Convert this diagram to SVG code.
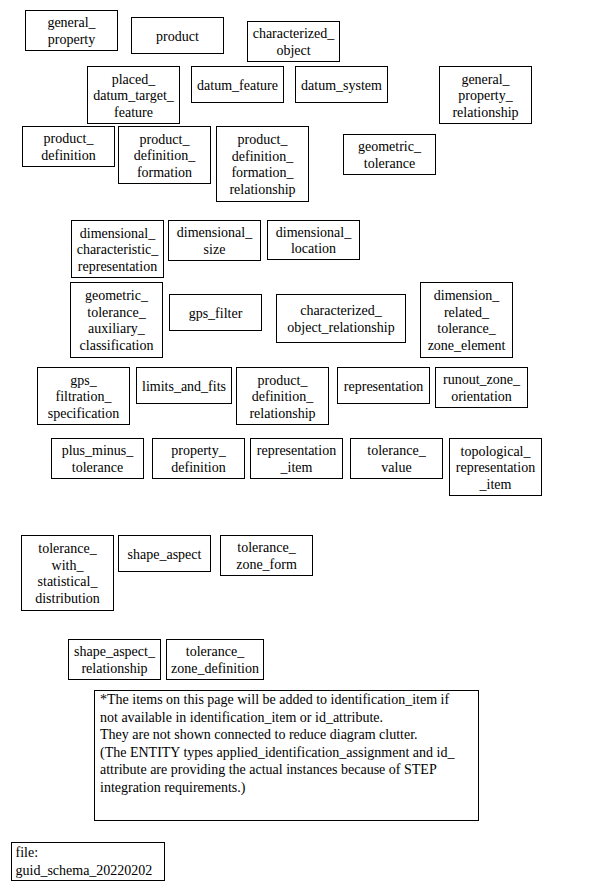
<svg xmlns="http://www.w3.org/2000/svg" width="600" height="888" viewBox="0 0 600 888">
<style>
rect{fill:#fff;stroke:#000;stroke-width:1}
text{font-family:'Liberation Serif',serif;font-size:14px;fill:#000}
.c{text-anchor:middle}
</style>
<rect x="0" y="0" width="600" height="888" style="stroke:none"/>
<g id="connectors"/>
<g id="nodes" font-family="Liberation Serif, serif" font-size="14">
<g id="general_property"><rect x="25.5" y="10.5" width="92" height="40"/><text class="c" x="71.5" y="27.25">general_</text><text class="c" x="71.5" y="43.75">property</text></g>
<g id="product"><rect x="131.5" y="17.5" width="92" height="36"/><text class="c" x="177.5" y="40.5">product</text></g>
<g id="characterized_object"><rect x="247.5" y="21.5" width="92" height="40"/><text class="c" x="293.5" y="38.25">characterized_</text><text class="c" x="293.5" y="54.75">object</text></g>
<g id="placed_datum_target_feature"><rect x="87.5" y="66.5" width="92" height="57"/><text class="c" x="133.5" y="83.5">placed_</text><text class="c" x="133.5" y="100">datum_target_</text><text class="c" x="133.5" y="116.5">feature</text></g>
<g id="datum_feature"><rect x="191.5" y="66.5" width="92" height="36"/><text class="c" x="237.5" y="89.5">datum_feature</text></g>
<g id="datum_system"><rect x="295.5" y="66.5" width="92" height="36"/><text class="c" x="341.5" y="89.5">datum_system</text></g>
<g id="general_property_relationship"><rect x="439.5" y="66.5" width="92" height="57"/><text class="c" x="485.5" y="83.5">general_</text><text class="c" x="485.5" y="100">property_</text><text class="c" x="485.5" y="116.5">relationship</text></g>
<g id="product_definition"><rect x="22.5" y="126.5" width="92" height="40"/><text class="c" x="68.5" y="143.25">product_</text><text class="c" x="68.5" y="159.75">definition</text></g>
<g id="product_definition_formation"><rect x="118.5" y="126.5" width="92" height="57"/><text class="c" x="164.5" y="143.5">product_</text><text class="c" x="164.5" y="160">definition_</text><text class="c" x="164.5" y="176.5">formation</text></g>
<g id="product_definition_formation_relationship"><rect x="216.5" y="126.5" width="92" height="75"/><text class="c" x="262.5" y="144.25">product_</text><text class="c" x="262.5" y="160.75">definition_</text><text class="c" x="262.5" y="177.25">formation_</text><text class="c" x="262.5" y="193.75">relationship</text></g>
<g id="geometric_tolerance"><rect x="343.5" y="134.5" width="92" height="40"/><text class="c" x="389.5" y="151.25">geometric_</text><text class="c" x="389.5" y="167.75">tolerance</text></g>
<g id="dimensional_characteristic_representation"><rect x="71.5" y="220.5" width="92" height="57"/><text class="c" x="117.5" y="237.5">dimensional_</text><text class="c" x="117.5" y="254">characteristic_</text><text class="c" x="117.5" y="270.5">representation</text></g>
<g id="dimensional_size"><rect x="168.5" y="220.5" width="92" height="40"/><text class="c" x="214.5" y="237.25">dimensional_</text><text class="c" x="214.5" y="253.75">size</text></g>
<g id="dimensional_location"><rect x="267.5" y="220.5" width="92" height="39"/><text class="c" x="313.5" y="236.75">dimensional_</text><text class="c" x="313.5" y="253.25">location</text></g>
<g id="geometric_tolerance_auxiliary_classification"><rect x="70.5" y="282.5" width="92" height="75"/><text class="c" x="116.5" y="300.25">geometric_</text><text class="c" x="116.5" y="316.75">tolerance_</text><text class="c" x="116.5" y="333.25">auxiliary_</text><text class="c" x="116.5" y="349.75">classification</text></g>
<g id="gps_filter"><rect x="169.5" y="294.5" width="92" height="36"/><text class="c" x="215.5" y="317.5">gps_filter</text></g>
<g id="characterized_object_relationship"><rect x="276.5" y="294.5" width="129" height="48"/><text class="c" x="341" y="315.25">characterized_</text><text class="c" x="341" y="331.75">object_relationship</text></g>
<g id="dimension_related_tolerance_zone_element"><rect x="420.5" y="282.5" width="92" height="75"/><text class="c" x="466.5" y="300.25">dimension_</text><text class="c" x="466.5" y="316.75">related_</text><text class="c" x="466.5" y="333.25">tolerance_</text><text class="c" x="466.5" y="349.75">zone_element</text></g>
<g id="gps_filtration_specification"><rect x="37.5" y="367.5" width="92" height="57"/><text class="c" x="83.5" y="384.5">gps_</text><text class="c" x="83.5" y="401">filtration_</text><text class="c" x="83.5" y="417.5">specification</text></g>
<g id="limits_and_fits"><rect x="136.5" y="367.5" width="95" height="36"/><text class="c" x="184" y="390.5">limits_and_fits</text></g>
<g id="product_definition_relationship"><rect x="236.5" y="367.5" width="92" height="57"/><text class="c" x="282.5" y="384.5">product_</text><text class="c" x="282.5" y="401">definition_</text><text class="c" x="282.5" y="417.5">relationship</text></g>
<g id="representation"><rect x="337.5" y="367.5" width="92" height="36"/><text class="c" x="383.5" y="390.5">representation</text></g>
<g id="runout_zone_orientation"><rect x="435.5" y="367.5" width="92" height="40"/><text class="c" x="481.5" y="384.25">runout_zone_</text><text class="c" x="481.5" y="400.75">orientation</text></g>
<g id="plus_minus_tolerance"><rect x="51.5" y="438.5" width="92" height="40"/><text class="c" x="97.5" y="455.25">plus_minus_</text><text class="c" x="97.5" y="471.75">tolerance</text></g>
<g id="property_definition"><rect x="152.5" y="438.5" width="92" height="40"/><text class="c" x="198.5" y="455.25">property_</text><text class="c" x="198.5" y="471.75">definition</text></g>
<g id="representation_item"><rect x="250.5" y="438.5" width="92" height="40"/><text class="c" x="296.5" y="455.25">representation</text><text class="c" x="296.5" y="471.75">_item</text></g>
<g id="tolerance_value"><rect x="350.5" y="438.5" width="92" height="40"/><text class="c" x="396.5" y="455.25">tolerance_</text><text class="c" x="396.5" y="471.75">value</text></g>
<g id="topological_representation_item"><rect x="449.5" y="438.5" width="92" height="57"/><text class="c" x="495.5" y="455.5">topological_</text><text class="c" x="495.5" y="472">representation</text><text class="c" x="495.5" y="488.5">_item</text></g>
<g id="tolerance_with_statistical_distribution"><rect x="21.5" y="535.5" width="92" height="75"/><text class="c" x="67.5" y="553.25">tolerance_</text><text class="c" x="67.5" y="569.75">with_</text><text class="c" x="67.5" y="586.25">statistical_</text><text class="c" x="67.5" y="602.75">distribution</text></g>
<g id="shape_aspect"><rect x="118.5" y="535.5" width="92" height="36"/><text class="c" x="164.5" y="558.5">shape_aspect</text></g>
<g id="tolerance_zone_form"><rect x="220.5" y="535.5" width="92" height="40"/><text class="c" x="266.5" y="552.25">tolerance_</text><text class="c" x="266.5" y="568.75">zone_form</text></g>
<g id="shape_aspect_relationship"><rect x="68.5" y="639.5" width="92" height="40"/><text class="c" x="114.5" y="656.25">shape_aspect_</text><text class="c" x="114.5" y="672.75">relationship</text></g>
<g id="tolerance_zone_definition"><rect x="166.5" y="639.5" width="97" height="40"/><text class="c" x="215" y="656.25">tolerance_</text><text class="c" x="215" y="672.75">zone_definition</text></g>
<g id="note"><rect x="94.5" y="690.5" width="384" height="130"/>
<text x="100" y="704">*The items on this page will be added to identification_item if</text>
<text x="100" y="721.5">not available in identification_item or id_attribute.</text>
<text x="100" y="739">They are not shown connected to reduce diagram clutter.</text>
<text x="100" y="756.5">(The ENTITY types applied_identification_assignment and id_</text>
<text x="100" y="774">attribute are providing the actual instances because of  STEP</text>
<text x="100" y="791.5">integration requirements.)</text>
</g>
<g id="file"><rect x="11.5" y="842.5" width="153" height="38"/><text x="15.5" y="857">file:</text><text x="15.5" y="874.5">guid_schema_20220202</text></g>
</g>
</svg>
